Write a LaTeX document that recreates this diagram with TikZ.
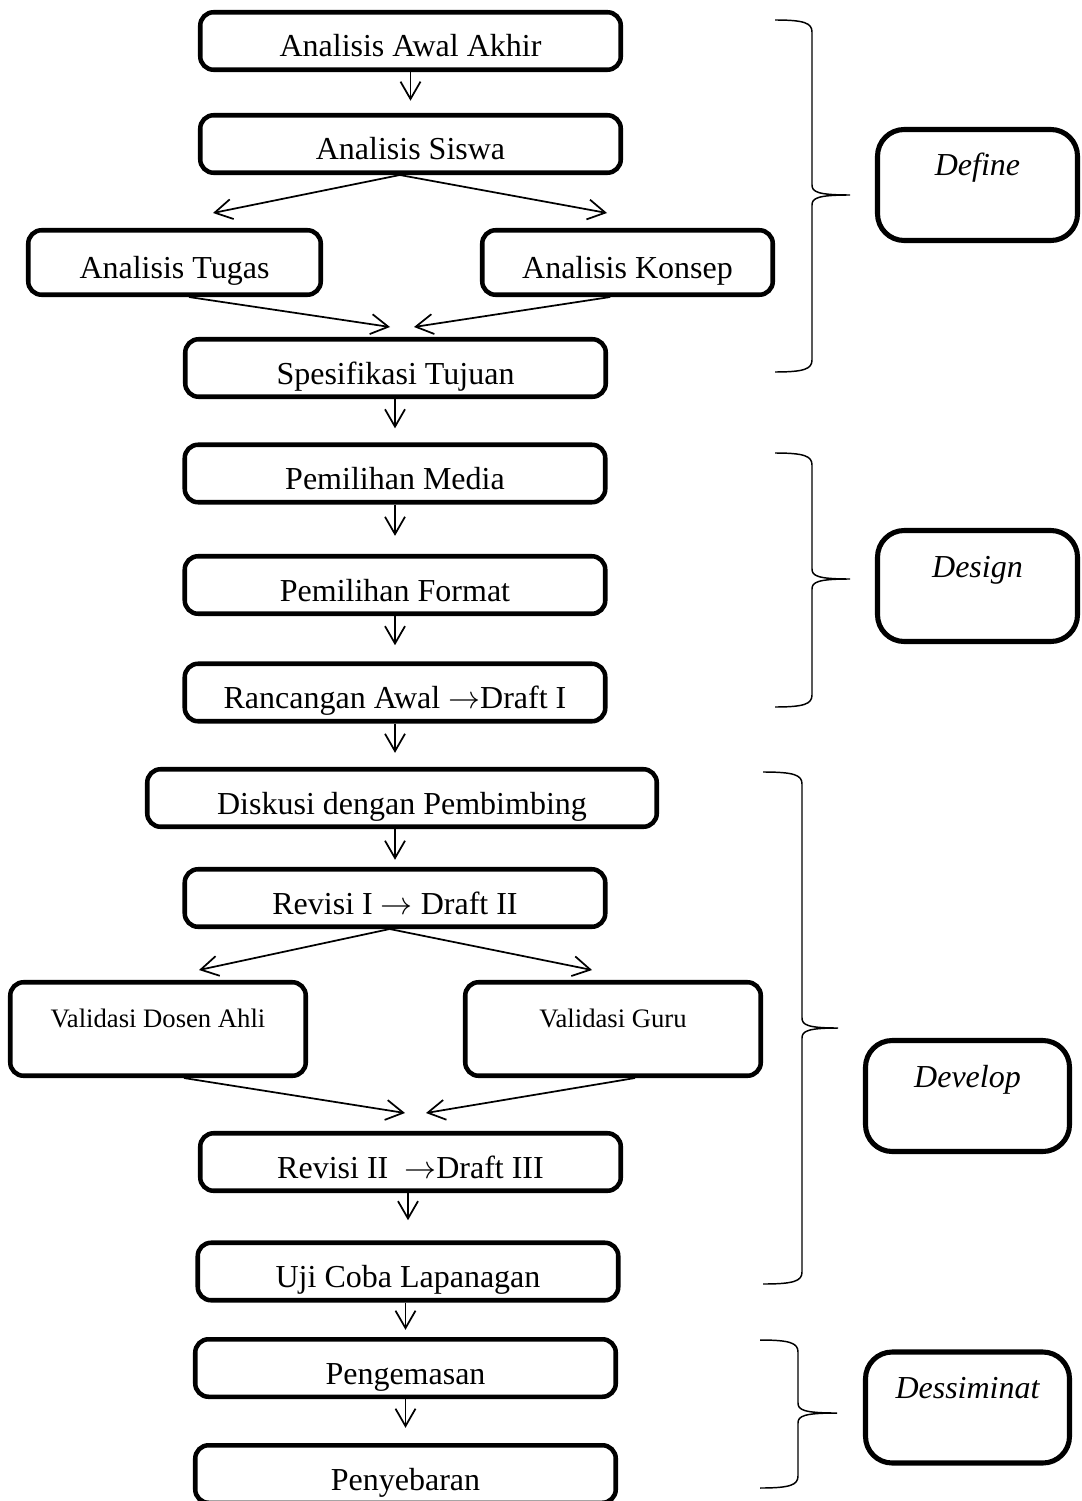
\documentclass[tikz,border=0pt]{standalone}
\usepackage{fontspec}
\setmainfont{Liberation Serif}
\usetikzlibrary{arrows.meta}
\newcommand{\satuan}{0.375pt}
\begin{document}
\begin{tikzpicture}[x=0.375pt,y=-0.375pt,
  kotak/.style={draw,line width=1.7pt,rounded corners=5pt,inner sep=2pt,
    minimum width=420.5*\satuan,minimum height=57.5*\satuan,
    text height=12.5pt,text depth=0.5pt,font=\fontsize{12}{14}\selectfont},
  validasi/.style={kotak,minimum width=295.5*\satuan,minimum height=93.5*\satuan,
    text height=8pt,text depth=9.5pt,font=\fontsize{10}{12}\selectfont},
  tahap/.style={draw,line width=1.9pt,rounded corners=10pt,inner sep=2pt,
    minimum width=200*\satuan,minimum height=111*\satuan,
    text height=8pt,text depth=14.75pt,font=\fontsize{12}{14}\selectfont\itshape},
  panah/.style={-{Straight Barb[length=6.5pt,width=7.5pt]},line width=0.65pt},
  kurung/.style={line width=0.55pt}]
  \useasboundingbox (0,0) rectangle (1081,1501);
  % kotak utama
  \node[kotak] (awal) at (410.5,41) {Analisis Awal Akhir};
  \node[kotak] (siswa) at (410.5,144) {Analisis Siswa};
  \node[kotak,minimum width=292.5*\satuan,minimum height=64.5*\satuan] (tugas) at (174.5,262.5) {Analisis Tugas};
  \node[kotak,minimum width=290.5*\satuan,minimum height=64.5*\satuan] (konsep) at (627.5,262.5) {Analisis Konsep};
  \node[kotak] (spes) at (395.5,368) {Spesifikasi Tujuan};
  \node[kotak] (media) at (395,473.5) {Pemilihan Media};
  \node[kotak] (format) at (395,585) {Pemilihan Format};
  \node[kotak] (rancangan) at (395,692.5) {Rancangan Awal $\rightarrow$Draft I};
  \node[kotak,minimum width=509.5*\satuan] (diskusi) at (402,798) {Diskusi dengan Pembimbing};
  \node[kotak] (revisi1) at (395,898) {Revisi I $\rightarrow$ Draft II};
  \node[validasi] (dosen) at (158,1029) {Validasi Dosen Ahli};
  \node[validasi] (guru) at (613,1029) {Validasi Guru};
  \node[kotak] (revisi2) at (410.5,1162) {Revisi II\ \ $\rightarrow$Draft III};
  \node[kotak] (uji) at (408,1271.5) {Uji Coba Lapanagan};
  \node[kotak] (kemas) at (405.5,1368) {Pengemasan};
  \node[kotak] (sebar) at (405.5,1474) {Penyebaran};
  % tahap
  \node[tahap] (define) at (977.5,185) {Define};
  \node[tahap] (design) at (977.5,586) {Design};
  \node[tahap,minimum width=204*\satuan] (develop) at (967.5,1096) {Develop};
  \node[tahap,minimum width=204*\satuan] (dessiminat) at (967.5,1407.5) {Dessiminat};
  % ujung panah miring
  \coordinate (tugasmasuk) at (213,213);
  \coordinate (konsepmasuk) at (607,213);
  \coordinate (speskiri) at (390,327);
  \coordinate (speskanan) at (414,327);
  \coordinate (dosenmasuk) at (199,970);
  \coordinate (gurumasuk) at (592,970);
  \coordinate (revisikiri) at (405,1113);
  \coordinate (revisikanan) at (426,1113);
  % panah
  \draw[panah,shorten >=4.6pt] (awal.south) -- (siswa.north);
  \draw[panah] ([xshift=-4pt]siswa.south) -- (tugasmasuk);
  \draw[panah] ([xshift=-4pt]siswa.south) -- (konsepmasuk);
  \draw[panah] ([xshift=5.4pt]tugas.south) -- (speskiri);
  \draw[panah] ([xshift=-6.5pt]konsep.south) -- (speskanan);
  \draw[panah,shorten >=5.3pt] (media.north |- spes.south) -- (media.north);
  \draw[panah,shorten >=6.8pt] (format.north |- media.south) -- (format.north);
  \draw[panah,shorten >=6.1pt] (rancangan.north |- format.south) -- (rancangan.north);
  \draw[panah,shorten >=5.3pt] (rancangan.south) -- (rancangan.south |- diskusi.north);
  \draw[panah,shorten >=2.7pt] (revisi1.north |- diskusi.south) -- (revisi1.north);
  \draw[panah] ([xshift=-2pt]revisi1.south) -- (dosenmasuk);
  \draw[panah] ([xshift=-2pt]revisi1.south) -- (gurumasuk);
  \draw[panah] ([xshift=9.75pt]dosen.south) -- (revisikiri);
  \draw[panah] ([xshift=8.25pt]guru.south) -- (revisikanan);
  \draw[panah,shorten >=7.6pt] (uji.north |- revisi2.south) -- (uji.north);
  \draw[panah,shorten >=2.7pt] (kemas.north |- uji.south) -- (kemas.north);
  \draw[panah,shorten >=5.7pt] (kemas.south) -- (sebar.north);
  % kurung kurawal
  \foreach \xl/\xs/\xt/\yt/\ym/\yb in {775/812/850/20/195/372, 775/812/850/453/579/707,
      763/802/838/772/1028/1284, 760/798/837/1340/1413/1488}
    \draw[kurung] (\xl,\yt) .. controls (\xs-8,\yt) and (\xs,\yt+3) .. (\xs,\yt+12)
      -- (\xs,\ym-10) .. controls (\xs,\ym-3) and (\xs+6,\ym) .. (\xt,\ym)
      .. controls (\xs+6,\ym) and (\xs,\ym+3) .. (\xs,\ym+10)
      -- (\xs,\yb-12) .. controls (\xs,\yb-3) and (\xs-8,\yb) .. (\xl,\yb);
\end{tikzpicture}
\end{document}
